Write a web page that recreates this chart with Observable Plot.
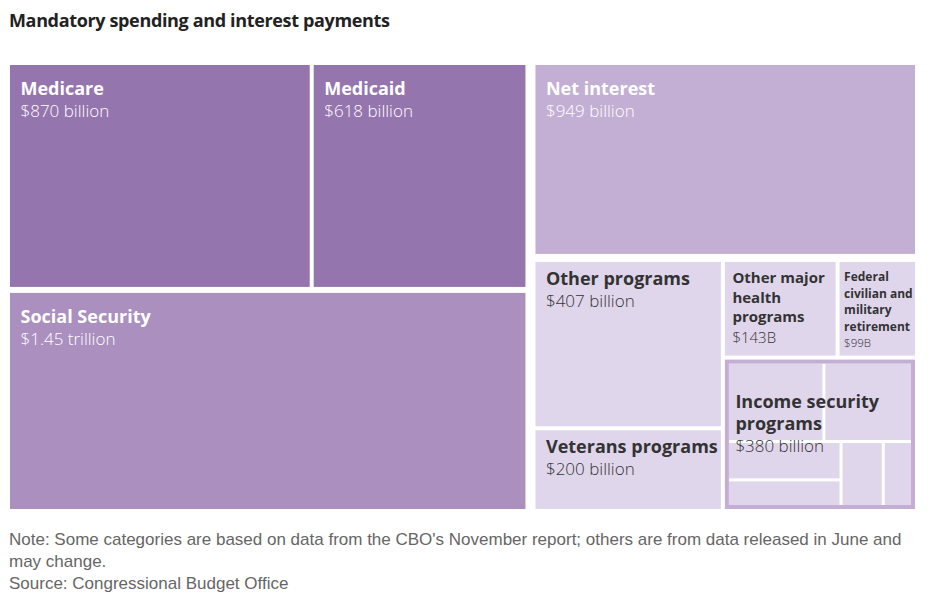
<!DOCTYPE html>
<html><head><meta charset="utf-8">
<script src="https://cdn.jsdelivr.net/npm/d3@7"></script>
<script src="https://cdn.jsdelivr.net/npm/@observablehq/plot@0.6"></script>
<style>
body{margin:0;background:#fff;font-family:"Open Sans",sans-serif;}
#title{position:absolute;left:9px;top:8px;font-size:18px;font-weight:700;color:#222;white-space:nowrap;letter-spacing:-0.35px;}
#chart{position:absolute;left:0;top:57px;}
#note{position:absolute;left:9px;top:529px;font-size:17px;line-height:22px;color:#666;white-space:nowrap;font-family:"Liberation Sans",Arial,sans-serif;}
</style></head><body>
<div id="title">Mandatory spending and interest payments</div>
<div id="chart"></div>
<div id="note">Note: Some categories are based on data from the CBO's November report; others are from data released in June and<br>may change.<br>Source: Congressional Budget Office</div>
<script>
// ---- data ----
const categories = ["Medicare","Medicaid","Social Security","Net interest","Other programs","Veterans programs","Other major health programs","Federal civilian and military retirement","Income security programs"];
const displayLabels = ["Medicare","Medicaid","Social Security","Net interest","Other programs","Veterans programs","Other major\nhealth\nprograms","Federal\ncivilian and\nmilitary\nretirement","Income security\nprograms"];
const values = [870, 618, 1450, 949, 407, 200, 143, 99, 380];
const valueLabels = ["$870 billion","$618 billion","$1.45 trillion","$949 billion","$407 billion","$200 billion","$143B","$99B","$380 billion"];
// unlabeled sub-programs inside Income security (estimated)
const incomeParts = ["Income security 1","Income security 2","Income security 3","Income security 4","Income security 5","Income security 6"];
const incomePartValues = [109, 100, 62, 43, 39, 27];
const colors = ["#9575ae","#9575ae","#aa8fbf","#c3afd3","#e0d6ec","#e0d6ec","#e0d6ec","#e0d6ec","#e0d6ec"];
const partColor = "#e0d6ec";
const incomeBorder = "#c5aed4";

// ---- hierarchy ----
const leaf = i => ({name: categories[i], idx: i, value: values[i]});
const part = j => ({name: incomeParts[j], part: true, value: incomePartValues[j]});
const tree = {name: "root", children: [
  {name: "left", children: [{name: "health", children: [leaf(0), leaf(1)]}, leaf(2)]},
  {name: "right", children: [leaf(3), {name: "bottom", children: [
    {name: "col1", children: [leaf(4), leaf(5)]},
    {name: "col2", children: [
      {name: "row", children: [leaf(6), leaf(7)]},
      {name: categories[8], idx: 8, children: [{name: "wrap", children: [
        {name: "top", children: [part(0), part(1)]},
        {name: "bot", children: [{name: "bl", children: [part(2), part(3)]}, part(4), part(5)]}
      ]}]}
    ]}
  ]}]}
]};

const W = 936, H = 460, mL = 10, mR = 21, mT = 8, mB = 8;
const tw = W - mL - mR, th = H - mT - mB;
const innerPad = {root: 10, left: 6, health: 4, right: 8, bottom: 4, col1: 4, col2: 4, row: 4, wrap: 3, top: 3, bot: 3, bl: 3};
const root = d3.treemap()
  .tile(d3.treemapSliceDice)
  .size([tw, th])
  .paddingInner(d => innerPad[d.data.name] ?? 0)
  .paddingOuter(d => d.data.idx === 8 ? 4 : 0)
  (d3.hierarchy(tree).sum(d => d.children ? 0 : d.value));

const nodes = root.descendants();
const leaves = nodes.filter(d => !d.children);
const named = nodes.filter(d => d.data.idx !== undefined);
const income = named.filter(d => d.data.idx === 8);

const w = d => d.x1 - d.x0, h = d => d.y1 - d.y0;
const fs = d => w(d) >= 180 ? 18 : w(d) >= 100 ? 15 : 12;
const big = named.filter(d => fs(d) === 18);
const mid = named.filter(d => fs(d) === 15);
const small = named.filter(d => fs(d) === 12);
const topOff = d => d.children ? 32 : (h(d) > 180 ? 14 : 7);
const nLines = d => displayLabels[d.data.idx].split("\n").length;
const txtColor = d => d.data.idx < 4 ? "#ffffff" : "#333333";

function textMarks(data, size, lh, dx, vsize, vgap) {
  return [
    Plot.text(data, {x: d => d.x0 + dx, y: d => d.y0 + topOff(d), text: d => displayLabels[d.data.idx],
      fill: txtColor, fontSize: size, fontWeight: 700, lineHeight: lh, textAnchor: "start", lineAnchor: "top"}),
    Plot.text(data, {x: d => d.x0 + dx, y: d => d.y0 + topOff(d) + nLines(d) * size * lh + vgap, text: d => valueLabels[d.data.idx],
      fill: txtColor, fontSize: vsize, fontWeight: 300, lineHeight: lh, textAnchor: "start", lineAnchor: "top"})
  ];
}

const chart = Plot.plot({
  width: W, height: H,
  marginLeft: mL, marginRight: mR, marginTop: mT, marginBottom: mB,
  style: {fontFamily: "'Open Sans', sans-serif", background: "#fff"},
  x: {domain: [0, tw], axis: null},
  y: {domain: [0, th], axis: null, reverse: true},
  marks: [
    Plot.rect(leaves, {x1: "x0", x2: "x1", y1: "y0", y2: "y1",
      fill: d => d.data.part ? partColor : colors[d.data.idx]}),
    Plot.rect(income, {x1: "x0", x2: "x1", y1: "y0", y2: "y1", fill: "none",
      stroke: incomeBorder, strokeWidth: 4, inset: 2}),
    ...textMarks(big, 18, 1.22, 10, 17, 1),
    ...textMarks(mid, 15, 1.3, 7, 15, 1.5),
    ...textMarks(small, 12, 1.38, 4, 11.5, 0)
  ]
});
document.getElementById("chart").appendChild(chart);
</script>
</body></html>
